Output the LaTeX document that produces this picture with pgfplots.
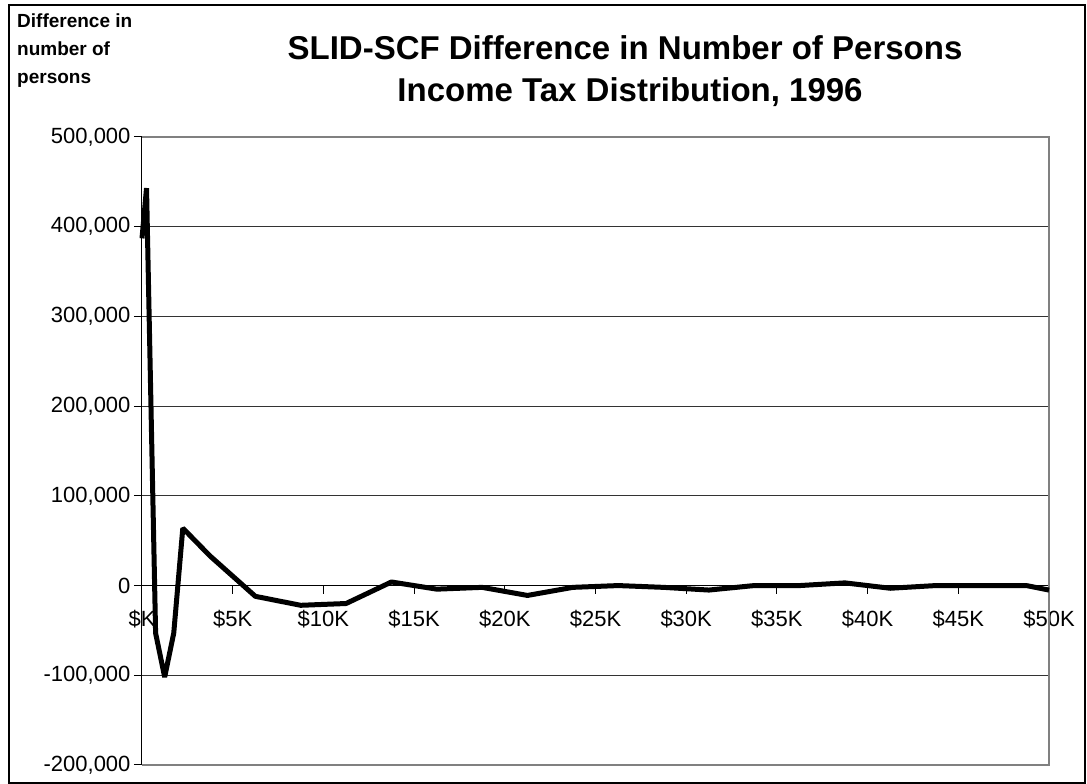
\documentclass[border=0pt]{standalone}
\usepackage{fontspec}
\setmainfont{Liberation Sans}
\usepackage{pgfplots}
\pgfplotsset{compat=1.18}
\begin{document}
\begin{tikzpicture}[x=1pt,y=1pt]
\useasboundingbox (-142,-19) rectangle (945,765);
\draw[line width=1.5pt] (-133,-18) rectangle (943,760);
\begin{axis}[at={(0,0)}, anchor=south west, scale only axis, width=907pt, height=628pt,
  xmin=0, xmax=50, ymin=-200000, ymax=500000,
  axis x line=middle, axis y line=left, axis line style={-, black, line width=1pt},
  hide obscured x ticks=false, hide obscured y ticks=false,
  xtick={0,5,...,50},
  xticklabels={\$K,\$5K,\$10K,\$15K,\$20K,\$25K,\$30K,\$35K,\$40K,\$45K,\$50K},
  xticklabel style={yshift=-13pt},
  ytick={-200000,-100000,...,500000}, scaled y ticks=false,
  yticklabel style={/pgf/number format/fixed, /pgf/number format/1000 sep={,}},
  /pgf/number format/assume math mode=true,
  tick align=outside, major tick length=8pt, tick style={black, line width=1pt},
  ymajorgrids, grid style={black!80, line width=1pt},
  ticklabel style={font=\fontsize{22}{26}\selectfont},
  clip=false,
]
\draw[gray, line width=1.5pt] (rel axis cs:0,1) -- (rel axis cs:1,1) -- (rel axis cs:1,0) -- (rel axis cs:0,0);
\addplot[black, line width=5pt, line join=bevel] coordinates {
(0,387000) (0.25,443000) (0.75,-53000) (1.25,-102000) (1.75,-53000) (2.25,64000)
(3.75,33000) (6.25,-12000) (8.75,-22000) (11.25,-20000) (13.75,4000) (16.25,-4000)
(18.75,-2000) (21.25,-11000) (23.75,-2000) (26.25,0) (28.75,-2000) (31.25,-5000)
(33.75,0) (36.25,0) (38.75,3000) (41.25,-3000) (43.75,0) (46.25,0) (48.75,0) (50,-5000)
};
\end{axis}
\node[anchor=base, font=\fontsize{33}{40}\selectfont\bfseries] at (483,705) {SLID-SCF Difference in Number of Persons};
\node[anchor=base, font=\fontsize{33}{40}\selectfont\bfseries] at (488,663) {Income Tax Distribution, 1996};
\node[anchor=base west, font=\fontsize{19}{23}\selectfont\bfseries, inner sep=0pt] at (-125,737) {Difference in};
\node[anchor=base west, font=\fontsize{19}{23}\selectfont\bfseries, inner sep=0pt] at (-125,709) {number of};
\node[anchor=base west, font=\fontsize{19}{23}\selectfont\bfseries, inner sep=0pt] at (-125,681) {persons};
\end{tikzpicture}
\end{document}
